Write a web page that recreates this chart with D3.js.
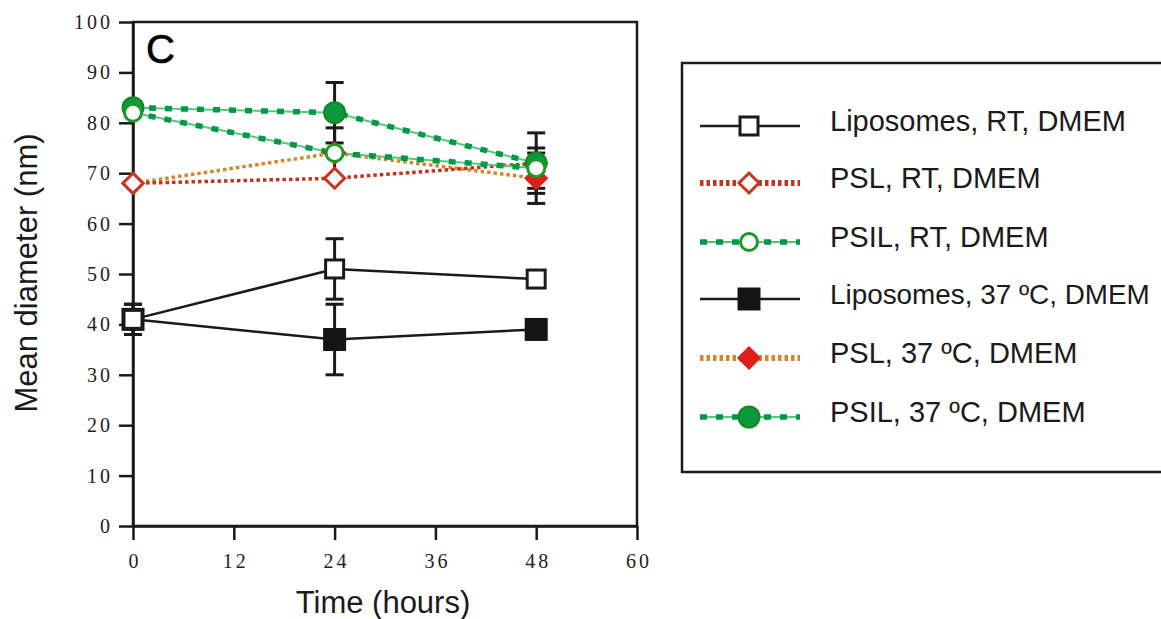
<!DOCTYPE html>
<html>
<head>
<meta charset="utf-8">
<script src="https://cdn.jsdelivr.net/npm/d3@7"></script>
<style>
  body { margin: 0; background: #fff; }
  .tick text { font-family: "Liberation Serif", serif; font-size: 20px; letter-spacing: 3px; fill: #222; }
</style>
</head>
<body>
<div class="canva"></div>
<script>
// values
const times = [0, 24, 48];
const xTicks = [0, 12, 24, 36, 48, 60];
const yTicks = [0, 10, 20, 30, 40, 50, 60, 70, 80, 90, 100];

const lipoRT = [41, 51, 49];
const lipoRTErr = [3, 6, 0];
const pslRT = [68, 69, 72];
const pslRTErr = [0, 0, 0];
const psilRT = [82, 74, 71];
const psilRTErr = [0, 5, 4];
const lipo37 = [41, 37, 39];
const lipo37Err = [3, 7, 1.5];
const psl37 = [68, 74, 69];
const psl37Err = [0, 0, 5];
const psil37 = [83, 82, 72];
const psil37Err = [0, 6, 6];

const labels = [
    "Liposomes, RT, DMEM",
    "PSL, RT, DMEM",
    "PSIL, RT, DMEM",
    "Liposomes, 37 ºC, DMEM",
    "PSL, 37 ºC, DMEM",
    "PSIL, 37 ºC, DMEM"
];

const series = [
    { name: labels[0], values: lipoRT, err: lipoRTErr, line: "solid", color: "#1a1a1a", marker: "square", fill: "#fff", mstroke: "#1a1a1a" },
    { name: labels[1], values: pslRT, err: pslRTErr, line: "dotted", color: "#c8301e", marker: "diamond", fill: "#fff", mstroke: "#cc3322" },
    { name: labels[2], values: psilRT, err: psilRTErr, line: "dashed", color: "#009a44", marker: "circle", fill: "#fff", mstroke: "#1c9a28" },
    { name: labels[3], values: lipo37, err: lipo37Err, line: "solid", color: "#1a1a1a", marker: "square", fill: "#151515", mstroke: "#151515" },
    { name: labels[4], values: psl37, err: psl37Err, line: "dotted", color: "#d6862a", marker: "diamond", fill: "#dc1f1a", mstroke: "#dc1f1a" },
    { name: labels[5], values: psil37, err: psil37Err, line: "dashed", color: "#009a44", marker: "circle", fill: "#0a9a3e", mstroke: "#17861f" }
];

const svg = d3.select(".canva").append("svg")
    .attr("width", 1161)
    .attr("height", 619);

const x = d3.scaleLinear().domain([0, 60]).range([133, 637]);
const y = d3.scaleLinear().domain([0, 100]).range([526, 22]);

// plot frame
svg.append("rect")
    .attr("x", x(0)).attr("y", y(100))
    .attr("width", x(60) - x(0)).attr("height", y(0) - y(100))
    .attr("fill", "none").attr("stroke", "#1a1a1a").attr("stroke-width", 2.5);

const yAxis = svg.append("g")
    .attr("transform", `translate(${x(0)},0)`)
    .call(d3.axisLeft(y).tickValues(yTicks).tickSize(14).tickSizeOuter(0).tickPadding(6));
const xAxis = svg.append("g")
    .attr("transform", `translate(0,${y(0)})`)
    .call(d3.axisBottom(x).tickValues(xTicks).tickSize(14).tickSizeOuter(0).tickPadding(14));
xAxis.selectAll(".tick text").attr("dx", 1.5);

[xAxis, yAxis].forEach(g => {
    g.select(".domain").attr("stroke", "#1a1a1a").attr("stroke-width", 2.5);
    g.selectAll(".tick line").attr("stroke", "#1a1a1a").attr("stroke-width", 2.5);
});

svg.append("text")
    .attr("x", 383).attr("y", 613)
    .attr("text-anchor", "middle")
    .style("font-family", "Liberation Sans, Arial, sans-serif")
    .style("font-size", "31px")
    .attr("fill", "#1a1a1a")
    .text("Time (hours)");

svg.append("text")
    .attr("transform", `translate(37, 273) rotate(-90)`)
    .attr("text-anchor", "middle")
    .style("font-family", "Liberation Sans, Arial, sans-serif")
    .style("font-size", "31px")
    .attr("fill", "#1a1a1a")
    .text("Mean diameter (nm)");

svg.append("text")
    .attr("x", 146).attr("y", 63)
    .style("font-family", "Liberation Sans, Arial, sans-serif")
    .style("font-size", "40px")
    .attr("fill", "#000")
    .attr("stroke", "#000").attr("stroke-width", 0.6)
    .text("C");

const line = d3.line().x((d, i) => x(times[i])).y(d => y(d));

function drawLine(g, s, path, legend) {
    if (s.line === "solid") {
        g.append("path").attr("d", path).attr("fill", "none")
            .attr("stroke", s.color).attr("stroke-width", 2.5);
    } else if (s.line === "dotted") {
        g.append("path").attr("d", path).attr("fill", "none")
            .attr("stroke", s.color).attr("stroke-width", legend ? 6 : 3.5)
            .attr("stroke-dasharray", "3.5,3");
    } else {
        g.append("path").attr("d", path).attr("fill", "none")
            .attr("stroke", "#5cc48a").attr("stroke-width", 2);
        g.append("path").attr("d", path).attr("fill", "none")
            .attr("stroke", s.color).attr("stroke-width", 5.5)
            .attr("stroke-dasharray", "7,9");
    }
}

function drawMarker(g, s, cx, cy) {
    if (s.marker === "square") {
        const sz = s.fill === "#fff" ? 18 : 20;
        g.append("rect").attr("x", cx - sz / 2).attr("y", cy - sz / 2)
            .attr("width", sz).attr("height", sz)
            .attr("fill", s.fill).attr("stroke", s.mstroke).attr("stroke-width", 3);
    } else if (s.marker === "diamond") {
        const r = 10;
        g.append("path")
            .attr("d", `M${cx},${cy - r}L${cx + r},${cy}L${cx},${cy + r}L${cx - r},${cy}Z`)
            .attr("fill", s.fill).attr("stroke", s.mstroke).attr("stroke-width", 3);
    } else {
        const r = s.fill === "#fff" ? 8.5 : 10.5;
        g.append("circle").attr("cx", cx).attr("cy", cy).attr("r", r)
            .attr("fill", s.fill).attr("stroke", s.mstroke).attr("stroke-width", s.fill === "#fff" ? 3 : 2);
    }
}

const plot = svg.append("g");

// error bars
series.forEach(s => {
    s.values.forEach((v, i) => {
        const e = s.err[i];
        if (!e) return;
        const cx = x(times[i]);
        const eb = plot.append("g").attr("stroke", "#1a1a1a").attr("stroke-width", 3);
        eb.append("line").attr("x1", cx).attr("x2", cx).attr("y1", y(v - e)).attr("y2", y(v + e));
        [v - e, v + e].forEach(t => {
            eb.append("line").attr("x1", cx - 9).attr("x2", cx + 9).attr("y1", y(t)).attr("y2", y(t));
        });
    });
});

// lines in drawing order
const order = [3, 0, 4, 1, 5, 2];
order.forEach(k => drawLine(plot, series[k], line(series[k].values), false));
order.forEach(k => {
    const s = series[k];
    s.values.forEach((v, i) => drawMarker(plot, s, x(times[i]), y(v)));
});

// legend
const legend = svg.append("g");
legend.append("rect")
    .attr("x", 682).attr("y", 63).attr("width", 520).attr("height", 409)
    .attr("fill", "#fff").attr("stroke", "#1a1a1a").attr("stroke-width", 2.5);

const rowY = [126, 183, 242, 299, 358, 417];
series.forEach((s, i) => {
    const row = legend.append("g");
    drawLine(row, s, `M700,${rowY[i]}L800,${rowY[i]}`, true);
    drawMarker(row, s, 749, rowY[i]);
    const t = row.append("text")
        .attr("x", 830).attr("y", rowY[i] + 5)
        .style("font-family", "Liberation Sans, Arial, sans-serif")
        .style("font-size", "29px")
        .attr("fill", "#1a1a1a")
        .text(s.name);
    // shrink the long label so it stays inside the window
    const w = t.node().getComputedTextLength();
    if (w > 320) t.style("font-size", (29 * 320 / w).toFixed(2) + "px");
});
</script>
</body>
</html>
